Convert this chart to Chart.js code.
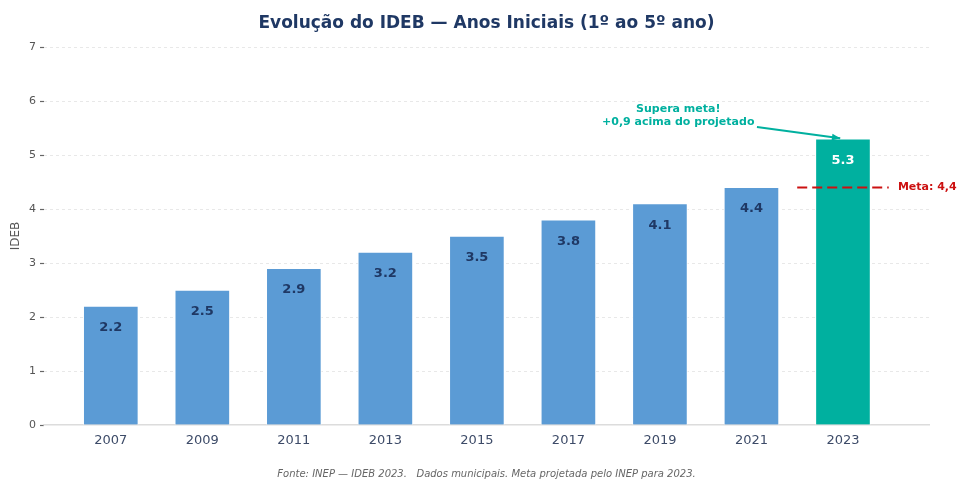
<!DOCTYPE html>
<html lang="pt-BR">
<head>
<meta charset="utf-8">
<title>Evolução do IDEB</title>
<script src="https://cdn.jsdelivr.net/npm/chart.js@4.4.1/dist/chart.umd.min.js"></script>
<style>
    html, body { margin: 0; padding: 0; background: #ffffff; }
    #wrap { width: 957px; height: 479px; position: relative; }
</style>
</head>
<body>
<div id="wrap"><canvas id="idebChart"></canvas></div>
<script>
// --- Data ---
const YEARS = ['2007', '2009', '2011', '2013', '2015', '2017', '2019', '2021', '2023'];
const IDEB = [2.2, 2.5, 2.9, 3.2, 3.5, 3.8, 4.1, 4.4, 5.3];
const META = 4.4;
const Y_TICKS = [0, 1, 2, 3, 4, 5, 6, 7];

const TITLE = 'Evolução do IDEB — Anos Iniciais (1º ao 5º ano)';
const NOTE_LINES = ['Supera meta!', '+0,9 acima do projetado'];
const META_LABEL = 'Meta: 4,4';
const FOOTER = 'Fonte: INEP — IDEB 2023.   Dados municipais. Meta projetada pelo INEP para 2023.';

const BLUE = '#5b9bd5';
const TEAL = '#00b09f';
const NAVY = '#1f3864';
const RED = '#cc1111';
const FONT = '"DejaVu Sans", Verdana, sans-serif';

const lastIdx = IDEB.length - 1;

// Extra drawing: title, value labels, meta line, note + arrow, footer
const extrasPlugin = {
    id: 'extras',
    afterDatasetsDraw(chart) {
        const { ctx, chartArea, scales: { x, y } } = chart;
        ctx.save();

        // value labels inside bars
        ctx.textAlign = 'center';
        ctx.textBaseline = 'middle';
        ctx.font = 'bold 13px ' + FONT;
        IDEB.forEach((v, i) => {
            ctx.fillStyle = i === lastIdx ? '#ffffff' : NAVY;
            ctx.fillText(v.toFixed(1), x.getPixelForValue(i), y.getPixelForValue(v - 0.4));
        });

        // meta dashed line
        const my = y.getPixelForValue(META);
        ctx.strokeStyle = RED;
        ctx.lineWidth = 2;
        ctx.setLineDash([10, 5]);
        ctx.beginPath();
        ctx.moveTo(x.getPixelForValue(lastIdx - 0.5), my);
        ctx.lineTo(x.getPixelForValue(lastIdx + 0.5), my);
        ctx.stroke();
        ctx.setLineDash([]);

        ctx.fillStyle = RED;
        ctx.textAlign = 'left';
        ctx.font = 'bold 11px ' + FONT;
        ctx.fillText(META_LABEL, x.getPixelForValue(lastIdx + 0.6), my);

        // note + arrow
        ctx.fillStyle = TEAL;
        ctx.textAlign = 'center';
        const nx = x.getPixelForValue(6.2);
        ctx.fillText(NOTE_LINES[0], nx, y.getPixelForValue(5.85));
        ctx.fillText(NOTE_LINES[1], nx, y.getPixelForValue(5.61));

        const ax0 = x.getPixelForValue(7.06), ay0 = y.getPixelForValue(5.52);
        const ax1 = x.getPixelForValue(7.97), ay1 = y.getPixelForValue(5.31);
        ctx.strokeStyle = TEAL;
        ctx.lineWidth = 2;
        ctx.beginPath();
        ctx.moveTo(ax0, ay0);
        ctx.lineTo(ax1, ay1);
        ctx.stroke();
        const ang = Math.atan2(ay1 - ay0, ax1 - ax0);
        ctx.beginPath();
        ctx.moveTo(ax1, ay1);
        ctx.lineTo(ax1 - 9 * Math.cos(ang - 0.4), ay1 - 9 * Math.sin(ang - 0.4));
        ctx.lineTo(ax1 - 9 * Math.cos(ang + 0.4), ay1 - 9 * Math.sin(ang + 0.4));
        ctx.closePath();
        ctx.fillStyle = TEAL;
        ctx.fill();

        // title
        const cx = (chartArea.left + chartArea.right) / 2;
        ctx.fillStyle = NAVY;
        ctx.font = 'bold 17px ' + FONT;
        ctx.fillText(TITLE, cx, 24);

        // footer
        ctx.fillStyle = '#666666';
        ctx.font = 'italic 10px ' + FONT;
        ctx.fillText(FOOTER, cx, 474);

        ctx.restore();
    }
};

new Chart(document.getElementById('idebChart'), {
    type: 'bar',
    data: {
        datasets: [{
            label: 'IDEB',
            data: IDEB.map((v, i) => ({ x: i, y: v })),
            backgroundColor: IDEB.map((_, i) => i === lastIdx ? TEAL : BLUE),
            borderColor: '#ffffff',
            borderWidth: 1,
            barThickness: 55
        }]
    },
    options: {
        responsive: true,
        maintainAspectRatio: false,
        animation: false,
        layout: { padding: { top: 47, right: 28, left: 0, bottom: 0 } },
        plugins: {
            legend: { display: false },
            title: { display: false },
            tooltip: { enabled: false }
        },
        scales: {
            x: {
                type: 'linear',
                offset: false,
                min: -0.73,
                max: 8.94,
                afterBuildTicks: (scale) => { scale.ticks = YEARS.map((_, i) => ({ value: i })); },
                afterFit: (scale) => { scale.height = 54; },
                grid: { display: false, drawTicks: false },
                border: { display: true, color: '#dcdcdc', width: 1.5 },
                ticks: {
                    padding: 8,
                    color: '#3d4b68',
                    font: { family: FONT, size: 13 },
                    callback: (v) => YEARS[v]
                }
            },
            y: {
                min: 0,
                max: 7,
                afterBuildTicks: (scale) => { scale.ticks = Y_TICKS.map(v => ({ value: v })); },
                afterFit: (scale) => { scale.width = 44; },
                title: {
                    display: true,
                    text: 'IDEB',
                    color: '#555555',
                    font: { family: FONT, size: 12 },
                    padding: { top: 9, bottom: 0 }
                },
                border: { display: false, dash: [3, 3] },
                grid: {
                    color: (c) => c.tick && c.tick.value === 0 ? 'rgba(0,0,0,0)' : '#e8e8e8',
                    lineWidth: 1,
                    drawTicks: true,
                    tickLength: 4,
                    tickColor: '#666666',
                    tickWidth: 1.2
                },
                ticks: {
                    padding: 4,
                    color: '#555555',
                    font: { family: FONT, size: 11 }
                }
            }
        }
    },
    plugins: [extrasPlugin]
});
</script>
</body>
</html>
